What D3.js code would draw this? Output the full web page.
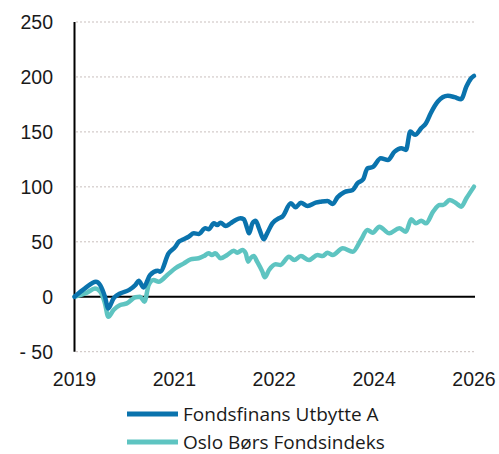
<!DOCTYPE html>
<html><head><meta charset="utf-8">
<script src="https://cdn.jsdelivr.net/npm/d3@7"></script>
<style>body{margin:0;background:#fff}svg{display:block}</style>
</head><body><svg id="c" width="499" height="454"></svg>
<script>
// x values are months from start (0..84)
const seriesNames = ["Fondsfinans Utbytte A", "Oslo Børs Fondsindeks"];
const blueMonths = [0,2.2,4.5,5.4,6.4,7.1,8.2,9.6,11.4,12.8,13.5,14.5,15.9,17.5,18.0,19.8,21.2,21.9,22.6,24.0,25.1,26.1,27.5,28.2,29.3,30.0,30.7,31.8,32.8,33.9,34.9,35.6,36.3,36.7,37.4,38.1,38.8,39.8,40.5,41.6,43.0,43.7,45.5,46.5,47.6,49.0,50.7,51.8,53.2,54.3,55.3,56.7,58.5,59.5,60.7,61.6,62.7,64.4,65.9,67.3,68.7,69.7,70.6,71.6,72.9,73.9,74.9,76.4,78.5,79.9,81.3,82.4,83.4,84];
const blueValues = [0,7.6,13.7,10.6,0,-10.6,-1.5,3,6,10.6,14.6,8.5,19.8,23.7,22.8,39.5,45.5,50,51.6,54.6,57.7,57.1,62.3,61.4,66.8,65.3,67.4,64.4,66.8,69.9,71.4,70.5,62.3,57.7,66.8,69.2,62.3,52.3,57.7,66.8,71.4,72.9,85,81.4,85.6,82.6,85.6,86.5,87.2,84.4,90.5,95.1,97.2,103.3,106.9,116.9,118,126,124.5,132,135.2,133.6,150.3,147.3,153.4,157.9,167,177.6,182.8,181.6,179.8,191.3,198.9,201];
const tealMonths = [0,2.6,4.3,5.4,6.4,7.1,8.2,9.6,11.0,12.8,13.8,14.7,15.6,16.6,17.7,19.5,21.2,23.0,24.4,26.1,27.2,28.2,28.9,29.6,30.7,32.1,33.5,34.2,35.3,36.0,36.5,37.0,37.7,38.4,39.5,40.0,40.9,42.3,43.3,45.1,46.2,47.6,49.3,51.1,52.2,53.2,54.3,56.4,58.5,60.2,61.6,62.7,64.1,66.2,68.3,69.7,70.8,71.8,72.9,73.9,75.4,76.8,77.5,78.9,80.3,81.3,82.4,84];
const tealValues = [0,3.6,7.6,4.6,-6,-18.2,-12,-7.6,-6,-0.5,0,-4.5,10.6,15.2,13.7,19.8,25.9,30.4,34,35,37,39.5,38,39.5,35,38,41.9,40.1,42.5,39.5,31.9,35,37,31.9,22.8,17.7,24.3,29.5,29,36.4,33.4,37,33.4,38,37,40.1,38,44.1,41,51.6,60.7,58.3,63.8,57.7,62.3,59.2,70.5,66.8,69.2,66.8,77.4,83.5,83.5,88.1,85,82,89.6,100.2];
const xTickValues = [0,21,42,63,84];
const xTickLabels = ["2019","2021","2022","2024","2026"];
const yTickValues = [-50,0,50,100,150,200,250];
const yTickLabels = ["- 50","0","50","100","150","200","250"];
const colors = ["#0a73ad","#5ec4c1"];

const svg = d3.select("#c");
const x = d3.scaleLinear().domain([0,84]).range([74.5,474]);
const y = d3.scaleLinear().domain([-50,250]).range([351.7,22]);

// gridlines
svg.append("g").selectAll("line").data(yTickValues.filter(v=>v!==0)).join("line")
  .attr("x1",76).attr("x2",475).attr("y1",d=>y(d)).attr("y2",d=>y(d))
  .attr("stroke","#c9bfbd").attr("stroke-width",1).attr("stroke-dasharray","2,2");

// y labels
svg.append("g").selectAll("text").data(yTickValues).join("text")
  .attr("x",53).attr("y",d=>y(d)).attr("dy","0.35em").attr("text-anchor","end")
  .attr("font-family","Liberation Sans, Arial, sans-serif").attr("font-size",19.5).attr("fill","#1a1a1a")
  .text((d,i)=>yTickLabels[i]);

// x labels
svg.append("g").selectAll("text").data(xTickValues).join("text")
  .attr("x",d=>x(d)).attr("y",386).attr("text-anchor","middle")
  .attr("font-family","Liberation Sans, Arial, sans-serif").attr("font-size",19.5).attr("fill","#1a1a1a")
  .text((d,i)=>xTickLabels[i]);

// zero line
svg.append("line").attr("x1",74).attr("x2",475).attr("y1",y(0)).attr("y2",y(0))
  .attr("stroke","#000").attr("stroke-width",2);
// y axis line
svg.append("line").attr("x1",74.5).attr("x2",74.5).attr("y1",y(250)).attr("y2",y(-50))
  .attr("stroke","#000").attr("stroke-width",2);

const line = d3.line().x(d=>x(d[0])).y(d=>y(d[1])).curve(d3.curveMonotoneX);
const series = [d3.zip(tealMonths,tealValues), d3.zip(blueMonths,blueValues)];
const sc = [colors[1], colors[0]];
svg.append("g").selectAll("path").data(series).join("path")
  .attr("d",line).attr("fill","none").attr("stroke",(d,i)=>sc[i])
  .attr("stroke-width",4.5).attr("stroke-linejoin","round").attr("stroke-linecap","round");

// legend
const lg = svg.append("g").selectAll("g").data(seriesNames).join("g")
  .attr("transform",(d,i)=>`translate(0,${414+i*28})`);
lg.append("line").attr("x1",127).attr("x2",178).attr("stroke",(d,i)=>colors[i]).attr("stroke-width",5);
lg.append("text").attr("x",183).attr("y",6.5)
  .attr("font-family","Open Sans, sans-serif").attr("font-size",19).attr("fill","#1a1a1a").text(d=>d);
</script></body></html>
